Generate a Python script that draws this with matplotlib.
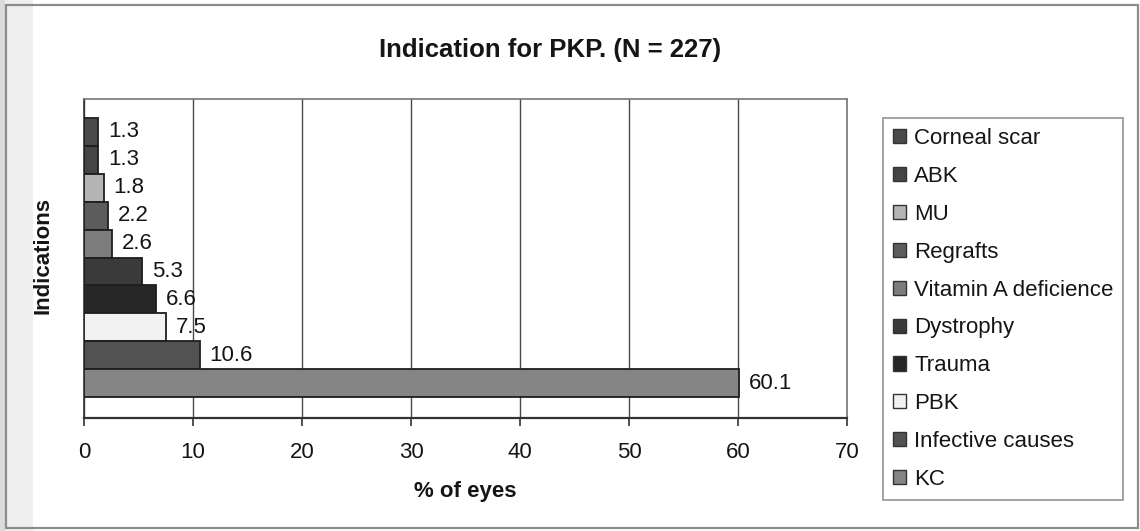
import matplotlib.pyplot as plt
from matplotlib.patches import Patch, Rectangle


# Indications for penetrating keratoplasty, % of eyes (N = 227)
INDICATIONS = ['Corneal scar', 'ABK', 'MU', 'Regrafts', 'Vitamin A deficience',
               'Dystrophy', 'Trauma', 'PBK', 'Infective causes', 'KC']
PERCENT = [1.3, 1.3, 1.8, 2.2, 2.6, 5.3, 6.6, 7.5, 10.6, 60.1]
SHADES = ['#4b4b4b', '#454545', '#b4b4b4', '#5c5c5c', '#7c7c7c',
          '#3a3a3a', '#262626', '#f2f2f2', '#525252', '#858585']
X_TICKS = [0, 10, 20, 30, 40, 50, 60, 70]

W, H = 1140, 531

plt.rcParams['font.family'] = ['Liberation Sans', 'DejaVu Sans']

fig = plt.figure(figsize=(W / 100, H / 100), dpi=100)
fig.patch.set_facecolor('white')

# outer chart border and the grey strip down the left edge
fig.add_artist(Rectangle((0, 0), 33 / W, 1, transform=fig.transFigure,
                         facecolor='#efefef', edgecolor='none', zorder=0))
fig.add_artist(Rectangle((0, 0), 5 / W, 1, transform=fig.transFigure,
                         facecolor='#dcdcdc', edgecolor='none', zorder=0))
fig.add_artist(Rectangle((6 / W, 3 / H), 1132 / W, 523 / H,
                         transform=fig.transFigure, facecolor='none',
                         edgecolor='#8c8c8c', lw=1.6, zorder=1))

left, right, top, bottom = 84, 847, 99, 418
ax = fig.add_axes([left / W, 1 - bottom / H, (right - left) / W,
                   (bottom - top) / H])
ax.set_facecolor('white')

n = len(INDICATIONS)
ypos = list(range(n - 1, -1, -1))
bars = ax.barh(ypos, PERCENT, height=1.0, color=SHADES,
               edgecolor='#1e1e1e', linewidth=1.3, zorder=3)

for y, v in zip(ypos, PERCENT):
    ax.text(v + 0.9, y, f'{v:.1f}', va='center', ha='left',
            fontsize=16, color='#151515', zorder=4)

ax.set_xlim(0, 70)
ax.set_ylim(-1.25, n - 0.5 + 0.68)
ax.set_xticks(X_TICKS)
ax.set_xticklabels([str(t) for t in X_TICKS], fontsize=16, color='#151515')
ax.set_yticks([])
ax.tick_params(axis='x', direction='out', length=6, width=1.2,
               color='#333333', pad=11)
ax.grid(axis='x', color='#4a4a4a', lw=1.0, zorder=1)

for side in ['top', 'right']:
    ax.spines[side].set_color('#777777')
    ax.spines[side].set_linewidth(1.2)
ax.spines['left'].set_color('#333333')
ax.spines['left'].set_linewidth(1.2)
ax.spines['bottom'].set_color('#333333')
ax.spines['bottom'].set_linewidth(1.6)

ax.set_xlabel('% of eyes', fontsize=16, fontweight='bold', color='#151515',
              labelpad=13)
fig.text(43 / W, 1 - 255 / H, 'Indications', rotation=90, ha='center',
         va='center', fontsize=16, fontweight='bold', color='#151515')
fig.text(550 / W, 1 - 50 / H, 'Indication for PKP. (N = 227)', ha='center',
         va='center', fontsize=18.5, fontweight='bold', color='#151515')

handles = [Patch(facecolor=c, edgecolor='#333333', lw=1.0) for c in SHADES]
leg = fig.legend(handles, INDICATIONS, loc='upper left',
                 bbox_to_anchor=(883 / W, 1 - 118 / H), fontsize=16,
                 frameon=True, fancybox=False, handlelength=0.6,
                 handleheight=0.6, handletextpad=0.35, labelspacing=0.76,
                 borderpad=0.45, borderaxespad=0)
leg.get_frame().set_edgecolor('#8c8c8c')
leg.get_frame().set_linewidth(1.4)
for t in leg.get_texts():
    t.set_color('#151515')

fig.savefig('out.png', dpi=100)
